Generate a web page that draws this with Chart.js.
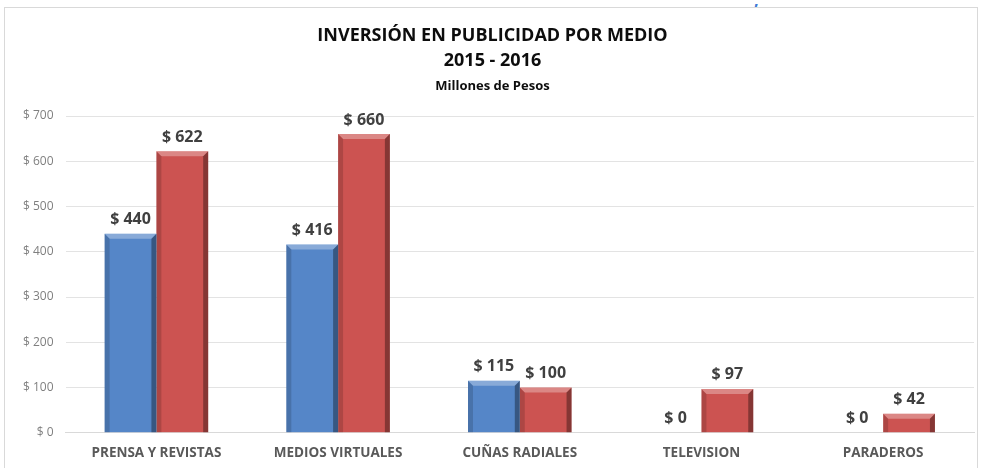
<!DOCTYPE html>
<html lang="es">
<head>
    <meta charset="UTF-8">
    <title>Inversión en publicidad por medio</title>
    <style>
        body {
            margin: 0;
            padding: 0;
            background: #ffffff;
            overflow: hidden;
            font-family: "Open Sans", Arial, sans-serif;
        }
        .frame {
            position: absolute;
            left: 4px;
            top: 7px;
            width: 974px;
            height: 470px;
            border: 1px solid #d9d9d9;
            box-sizing: border-box;
        }
        .cut {
            position: absolute;
            left: 754px;
            top: -11px;
            color: #3d7ad6;
            font-size: 16px;
            font-weight: bold;
        }
        .wrap {
            position: absolute;
            left: 5px;
            top: 8px;
            width: 972px;
            height: 465px;
        }
    </style>
</head>
<body>
    <div class="cut">,</div>
    <div class="frame"></div>
    <div class="wrap"><canvas id="chart"></canvas></div>

    <script src="https://cdn.jsdelivr.net/npm/chart.js"></script>
    <script>
        // data (millones de pesos)
        const categories = ['PRENSA Y REVISTAS', 'MEDIOS VIRTUALES', 'CUÑAS RADIALES', 'TELEVISION', 'PARADEROS'];
        const values2015 = [440, 416, 115, 0, 0];
        const values2016 = [622, 660, 100, 97, 42];
        const yTicks = [0, 100, 200, 300, 400, 500, 600, 700];

        const blue = '#5586c8';
        const red = '#cc5351';

        // bevel look on the bars
        const bevelPlugin = {
            id: 'bevel',
            afterDatasetsDraw(chart) {
                const ctx = chart.ctx;
                chart.data.datasets.forEach((ds, i) => {
                    const meta = chart.getDatasetMeta(i);
                    meta.data.forEach(bar => {
                        const h = bar.base - bar.y;
                        if (h < 1) return;
                        const left = bar.x - bar.width / 2;
                        const right = bar.x + bar.width / 2;
                        const top = bar.y;
                        const bottom = bar.base;
                        const b = Math.min(5, h / 2);
                        ctx.save();
                        // top light strip
                        ctx.fillStyle = 'rgba(255,255,255,0.30)';
                        ctx.beginPath();
                        ctx.moveTo(left, top);
                        ctx.lineTo(right, top);
                        ctx.lineTo(right - b, top + b);
                        ctx.lineTo(left + b, top + b);
                        ctx.closePath();
                        ctx.fill();
                        // right dark strip
                        ctx.fillStyle = 'rgba(0,0,0,0.35)';
                        ctx.beginPath();
                        ctx.moveTo(right, top);
                        ctx.lineTo(right, bottom);
                        ctx.lineTo(right - b, bottom);
                        ctx.lineTo(right - b, top + b);
                        ctx.closePath();
                        ctx.fill();
                        // left shade
                        ctx.fillStyle = 'rgba(0,0,0,0.15)';
                        ctx.beginPath();
                        ctx.moveTo(left, top);
                        ctx.lineTo(left + b, top + b);
                        ctx.lineTo(left + b, bottom);
                        ctx.lineTo(left, bottom);
                        ctx.closePath();
                        ctx.fill();
                        ctx.restore();
                    });
                });
            }
        };

        // value labels above each bar
        const labelPlugin = {
            id: 'valueLabels',
            afterDatasetsDraw(chart) {
                const ctx = chart.ctx;
                ctx.save();
                ctx.font = 'bold 16px "Open Sans", Arial, sans-serif';
                ctx.fillStyle = '#404040';
                ctx.textAlign = 'center';
                ctx.textBaseline = 'bottom';
                chart.data.datasets.forEach((ds, i) => {
                    const meta = chart.getDatasetMeta(i);
                    meta.data.forEach((bar, j) => {
                        ctx.fillText('$ ' + ds.data[j], bar.x, bar.y - 6);
                    });
                });
                ctx.restore();
            }
        };

        new Chart(document.getElementById('chart'), {
            type: 'bar',
            data: {
                labels: categories,
                datasets: [
                    { label: '2015', data: values2015, backgroundColor: blue },
                    { label: '2016', data: values2016, backgroundColor: red }
                ]
            },
            options: {
                responsive: true,
                maintainAspectRatio: false,
                animation: false,
                layout: { padding: { left: 6, right: 3, top: 4, bottom: 0 } },
                datasets: {
                    bar: { barPercentage: 1, categoryPercentage: 0.57 }
                },
                plugins: {
                    legend: { display: false },
                    tooltip: { enabled: false },
                    title: {
                        display: true,
                        text: ['INVERSIÓN EN PUBLICIDAD POR MEDIO', '2015 - 2016'],
                        color: '#0d0d0d',
                        font: { family: '"Open Sans", Arial, sans-serif', size: 18, weight: 'bold', lineHeight: 1.4 },
                        padding: { top: 11, bottom: 0 }
                    },
                    subtitle: {
                        display: true,
                        text: 'Millones de Pesos',
                        color: '#0d0d0d',
                        font: { family: '"Open Sans", Arial, sans-serif', size: 13, weight: 'bold' },
                        padding: { top: 5, bottom: 22 }
                    }
                },
                scales: {
                    x: {
                        grid: { display: false, drawTicks: false },
                        border: { color: '#d9d9d9' },
                        ticks: {
                            color: '#595959',
                            padding: 12,
                            font: { family: '"Open Sans", Arial, sans-serif', size: 13.5, weight: 'bold' }
                        }
                    },
                    y: {
                        min: yTicks[0],
                        max: yTicks[yTicks.length - 1],
                        afterBuildTicks(axis) {
                            axis.ticks = yTicks.map(v => ({ value: v }));
                        },
                        grid: { color: '#e3e3e3', drawTicks: false },
                        border: { display: false },
                        ticks: {
                            color: '#7f7f7f',
                            padding: 12,
                            font: { family: '"Open Sans", Arial, sans-serif', size: 12 },
                            callback: v => '$ ' + v
                        }
                    }
                }
            },
            plugins: [bevelPlugin, labelPlugin]
        });
    </script>
</body>
</html>
